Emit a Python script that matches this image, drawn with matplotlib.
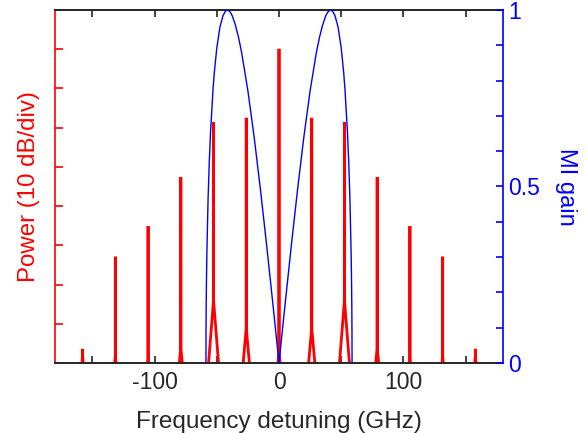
import matplotlib
matplotlib.use("Agg")
import matplotlib.pyplot as plt

plt.rcParams['font.family'] = ['Liberation Sans', 'DejaVu Sans']
plt.rcParams['axes.unicode_minus'] = False

# ---- data ----
line_freq = [-157.8, -131.5, -105.2, -78.9, -52.6, -26.3, 0.0, 26.3, 52.6, 78.9, 105.2, 131.5, 157.8]
line_power = [-86.4, -62.9, -55.1, -42.6, -28.6, -27.5, -9.9, -27.5, -28.6, -42.6, -55.1, -62.9, -86.4]
skirt_top = [-88, -88, -88, -86, -74, -81, -86, -81, -74, -86, -88, -88, -88]
skirt_halfwidth = [0.5, 0.5, 0.5, 1.2, 4.0, 2.5, 0.8, 2.5, 4.0, 1.2, 0.5, 0.5, 0.5]
floor_db = -90

gain_freq = [-58.7, -58.65, -58.5, -58.3, -58.0, -57.0, -56.0, -55.0, -53.0, -52.0, -50.0,
             -47.5, -45.0, -43.0, -41.5, -40.0, -39.0, -37.5, -35.0, -32.5, -30.0,
             -25.0, -20.0, -15.0, -10.0, -5.0, 0.0, 5.0, 10.0, 15.0, 20.0, 25.0,
             30.0, 32.5, 35.0, 37.5, 39.0, 40.0, 41.5, 43.0, 45.0, 47.5,
             50.0, 52.0, 53.0, 55.0, 56.0, 57.0, 58.0, 58.3, 58.5, 58.65, 58.7]
gain = [0.0, 0.082, 0.164, 0.231, 0.304, 0.464, 0.572, 0.655, 0.776, 0.822, 0.892,
        0.951, 0.984, 0.997, 1.0, 0.997, 0.993, 0.983, 0.957, 0.922, 0.879,
        0.771, 0.641, 0.494, 0.336, 0.170, 0.0, 0.170, 0.336, 0.494, 0.641, 0.771,
        0.879, 0.922, 0.957, 0.983, 0.993, 0.997, 1.0, 0.997, 0.984, 0.951,
        0.892, 0.822, 0.776, 0.655, 0.572, 0.464, 0.304, 0.231, 0.164, 0.082, 0.0]

x_ticks = [-150, -100, -50, 0, 50, 100, 150]
x_ticklabels = ['', '-100', '', '0', '', '100', '']
g_ticks = [0, 0.1, 0.2, 0.3, 0.4, 0.5, 0.6, 0.7, 0.8, 0.9, 1.0]
g_ticklabels = ['0', '', '', '', '', '0.5', '', '', '', '', '1']

RED = '#ff0000'
BLUE = '#0000ff'
DARK = '#262626'

fig = plt.figure(figsize=(5.87, 4.33), dpi=100)
ax = fig.add_axes([55/587, 70/433, (503-55)/587, (363-10)/433])

for f, p, st, hw in zip(line_freq, line_power, skirt_top, skirt_halfwidth):
    top = min(st, p)
    ax.plot([f - hw, f, f, f, f + hw], [floor_db, top, p, top, floor_db],
            color=RED, lw=2.0, solid_capstyle='butt', solid_joinstyle='miter', zorder=2)

ax.set_xlim(-180, 180)
ax.set_ylim(-90, 0)
ax.set_xticks(x_ticks)
ax.set_xticklabels(x_ticklabels)
ax.set_yticks(range(-90, 1, 10))
ax.set_yticklabels([])
ax.tick_params(axis='x', direction='in', length=5, width=1.2, colors=DARK, labelsize=16.5,
               top=True, pad=6)
ax.tick_params(axis='y', direction='in', length=6, width=1.2, colors=RED, left=True, right=False)
ax.spines['left'].set_color(RED)
ax.spines['left'].set_linewidth(1.2)
ax.spines['bottom'].set_color(DARK)
ax.spines['bottom'].set_linewidth(1.4)
ax.spines['top'].set_color(DARK)
ax.spines['top'].set_linewidth(1.4)
ax.spines['right'].set_visible(False)
ax.set_xlabel('Frequency detuning (GHz)', fontsize=17.5, color=DARK, labelpad=12)
ax.set_ylabel('Power (10 dB/div)', fontsize=17.3, color=RED, labelpad=7)

ax2 = ax.twinx()
ax2.plot(gain_freq, gain, color=BLUE, lw=1.0, zorder=3)
ax2.set_ylim(0, 1)
ax2.set_yticks(g_ticks)
ax2.set_yticklabels(g_ticklabels)
ax2.tick_params(axis='y', direction='in', length=5, width=1.2, colors=BLUE, labelsize=16.5, pad=4)
for s in ['left', 'top', 'bottom']:
    ax2.spines[s].set_visible(False)
ax2.spines['right'].set_color(BLUE)
ax2.spines['right'].set_linewidth(1.2)
ax2.set_ylabel('MI gain', fontsize=17, color=BLUE, rotation=270, labelpad=26)

fig.savefig('out.png', dpi=100)
